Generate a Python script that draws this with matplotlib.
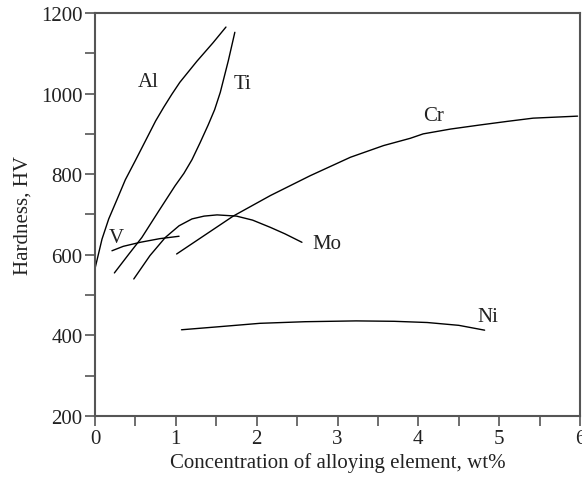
import matplotlib
matplotlib.use("Agg")
import matplotlib.pyplot as plt
from matplotlib.ticker import MultipleLocator

plt.rcParams['font.family'] = ['Liberation Serif', 'DejaVu Serif']

# Data
al_x = [0.004, 0.087, 0.17, 0.27, 0.375, 0.50, 0.62, 0.75, 0.85, 0.95, 1.05, 1.26, 1.46, 1.62]
al_y = [569, 639, 689, 736, 786, 834, 881, 932, 966, 998, 1028, 1080, 1126, 1165]

ti_x = [0.24, 0.42, 0.58, 0.79, 0.99, 1.10, 1.20, 1.30, 1.40, 1.48, 1.55, 1.65, 1.73]
ti_y = [555, 602, 643, 709, 771, 802, 836, 878, 922, 960, 1003, 1082, 1152]

v_x = [0.21, 0.35, 0.56, 0.80, 1.04]
v_y = [610, 621, 631, 640, 646]

mo_x = [0.48, 0.68, 0.87, 1.04, 1.20, 1.35, 1.51, 1.75, 1.95, 2.17, 2.35, 2.56]
mo_y = [540, 598, 643, 672, 689, 696, 699, 696, 686, 668, 652, 631]

cr_x = [1.01, 1.71, 2.17, 2.66, 3.16, 3.57, 3.90, 4.06, 4.40, 4.76, 5.10, 5.42, 5.97]
cr_y = [602, 696, 747, 796, 842, 871, 889, 900, 912, 922, 931, 939, 944]

ni_x = [1.07, 1.50, 2.04, 2.60, 3.23, 3.70, 4.11, 4.50, 4.82]
ni_y = [414, 421, 430, 434, 436, 435, 432, 425, 413]

labels = ["Al", "Ti", "V", "Mo", "Cr", "Ni"]
label_x = [0.66, 1.83, 0.26, 2.87, 4.19, 4.86]
label_y = [1029, 1024, 644, 627, 945, 447]

fig = plt.figure(figsize=(5.82, 4.81), dpi=100)
ax = fig.add_axes([0.1632, 0.133, 0.8334, 0.838])

for xs, ys in [(al_x, al_y), (ti_x, ti_y), (v_x, v_y), (mo_x, mo_y), (cr_x, cr_y), (ni_x, ni_y)]:
    ax.plot(xs, ys, color='black', lw=1.0, solid_joinstyle='round', solid_capstyle='round')

for t, x, y in zip(labels, label_x, label_y):
    ax.text(x, y, t, fontsize=15, ha='center', va='center', color='#222222')

ax.set_xlim(0, 6)
ax.set_ylim(200, 1200)
ax.xaxis.set_major_locator(MultipleLocator(1))
ax.xaxis.set_minor_locator(MultipleLocator(0.5))
ax.yaxis.set_major_locator(MultipleLocator(200))
ax.yaxis.set_minor_locator(MultipleLocator(100))
ax.tick_params(which='both', direction='out', length=7, width=1.2, color='#555555',
               labelsize=15, labelcolor='#222222', pad=2)

for s in ax.spines.values():
    s.set_color('#555555')
    s.set_linewidth(1.5)

ax.set_xlabel("Concentration of alloying element, wt%", fontsize=15, color='#222222', labelpad=3)
ax.set_ylabel("Hardness, HV", fontsize=15, color='#222222', labelpad=6)

fig.savefig("out.png", dpi=100)
